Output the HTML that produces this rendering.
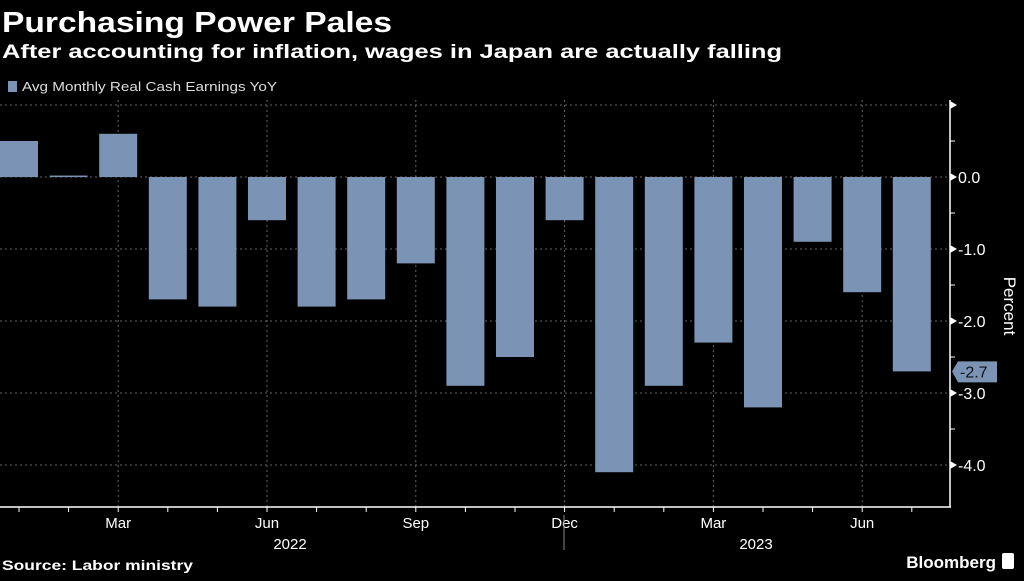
<!DOCTYPE html>
<html><head><meta charset="utf-8"><style>
body{margin:0;background:#000;width:1024px;height:576px;overflow:hidden;font-family:"Liberation Sans",sans-serif;color:#fff}
</style></head><body>
<svg width="1024" height="576" id="svg">
<text x="2" y="32" font-size="29" font-weight="bold" fill="#fff" textLength="390" lengthAdjust="spacingAndGlyphs">Purchasing Power Pales</text>
<text x="2" y="58" font-size="19" font-weight="bold" fill="#fff" textLength="780" lengthAdjust="spacingAndGlyphs">After accounting for inflation, wages in Japan are actually falling</text>
<rect x="8" y="81" width="9" height="11" fill="#7b93b5"/>
<text x="22" y="91" font-size="13" fill="#ddd" textLength="255" lengthAdjust="spacingAndGlyphs">Avg Monthly Real Cash Earnings YoY</text>
<g id="grid"></g><g id="bars"></g><g id="axes"></g>
<text transform="translate(1004,306) rotate(90)" font-size="17" fill="#fff" text-anchor="middle">Percent</text>
<text x="2" y="570" font-size="14" font-weight="bold" fill="#fff" textLength="191" lengthAdjust="spacingAndGlyphs">Source: Labor ministry</text>
<text x="996" y="568" font-size="17" font-weight="bold" fill="#fff" text-anchor="end">Bloomberg</text>
<rect x="1002" y="553" width="12" height="16" rx="2" fill="#fff"/>
</svg>
<script>
const months=["Jan","Feb","Mar","Apr","May","Jun","Jul","Aug","Sep","Oct","Nov","Dec","Jan","Feb","Mar","Apr","May","Jun","Jul"];
const values=[0.5,0.02,0.6,-1.7,-1.8,-0.6,-1.8,-1.7,-1.2,-2.9,-2.5,-0.6,-4.1,-2.9,-2.3,-3.2,-0.9,-1.6,-2.7];
const yTicks=[1,0,-1,-2,-3,-4];
const yLabels=["","0.0","-1.0","-2.0","-3.0","-4.0"];
const xLabelIdx=[2,5,8,11,14,17];
const years=["2022","2023"];
const NS="http://www.w3.org/2000/svg";
const y=v=>177-72*v;
const x=i=>19+49.6*i;
function mk(p,t,a){const e=document.createElementNS(NS,t);for(const k in a)e.setAttribute(k,a[k]);p.appendChild(e);return e;}
const grid=document.getElementById('grid'),bars=document.getElementById('bars'),axes=document.getElementById('axes');
yTicks.forEach((t,k)=>{
 const l=mk(grid,'line',{x1:0,x2:950,y1:y(t),y2:y(t),stroke:'#666','stroke-dasharray':'2,3'});
 
 
 mk(axes,'path',{d:`M950 ${y(t)-4}L957 ${y(t)}L950 ${y(t)+4}Z`,fill:'#fff'});
 if(t>-4)mk(axes,'line',{x1:950,x2:955,y1:y(t-0.5),y2:y(t-0.5),stroke:'#fff'});
 if(yLabels[k]){const tx=mk(axes,'text',{x:958,y:y(t)+6,'font-size':16,fill:'#fff'});tx.textContent=yLabels[k];
 
 }
});
xLabelIdx.forEach(i=>{
 const l=mk(grid,'line',{x1:x(i),x2:x(i),y1:100,y2:507,stroke:'#666','stroke-dasharray':'2,3'});
 
 
 const tx=mk(axes,'text',{x:x(i),y:528,'font-size':15,fill:'#fff','text-anchor':'middle'});tx.textContent=months[i];
 
 
});
values.forEach((v,i)=>{
 const top=Math.min(y(v),y(0)),h=Math.max(Math.abs(y(v)-y(0)),1.5);
 const r=mk(bars,'rect',{x:x(i)-19,y:top,width:38,height:h,fill:'#7b93b5'});
 
 
 mk(axes,'line',{x1:x(i),x2:x(i),y1:507,y2:512,stroke:'#fff'});
});
mk(axes,'line',{x1:0,x2:951,y1:507,y2:507,stroke:'#fff','stroke-width':1.5});
mk(axes,'line',{x1:950,x2:950,y1:100,y2:507,stroke:'#fff','stroke-width':1.5});
mk(axes,'line',{x1:564,x2:564,y1:515,y2:550,stroke:'#888'});
[[290,years[0]],[756,years[1]]].forEach(([px,t])=>{const tx=mk(axes,'text',{x:px,y:549,'font-size':15,fill:'#fff','text-anchor':'middle'});tx.textContent=t;
 
 });
const last=values[values.length-1],ly=y(last);
const tag=mk(axes,'path',{d:`M952 ${ly}L958 ${ly-10}L997 ${ly-10}L997 ${ly+11}L958 ${ly+11}Z`,fill:'#7b93b5'});


const lt=mk(axes,'text',{x:960,y:ly+6,'font-size':16,fill:'#111'});lt.textContent=last.toFixed(1);


</script>
</body></html>
